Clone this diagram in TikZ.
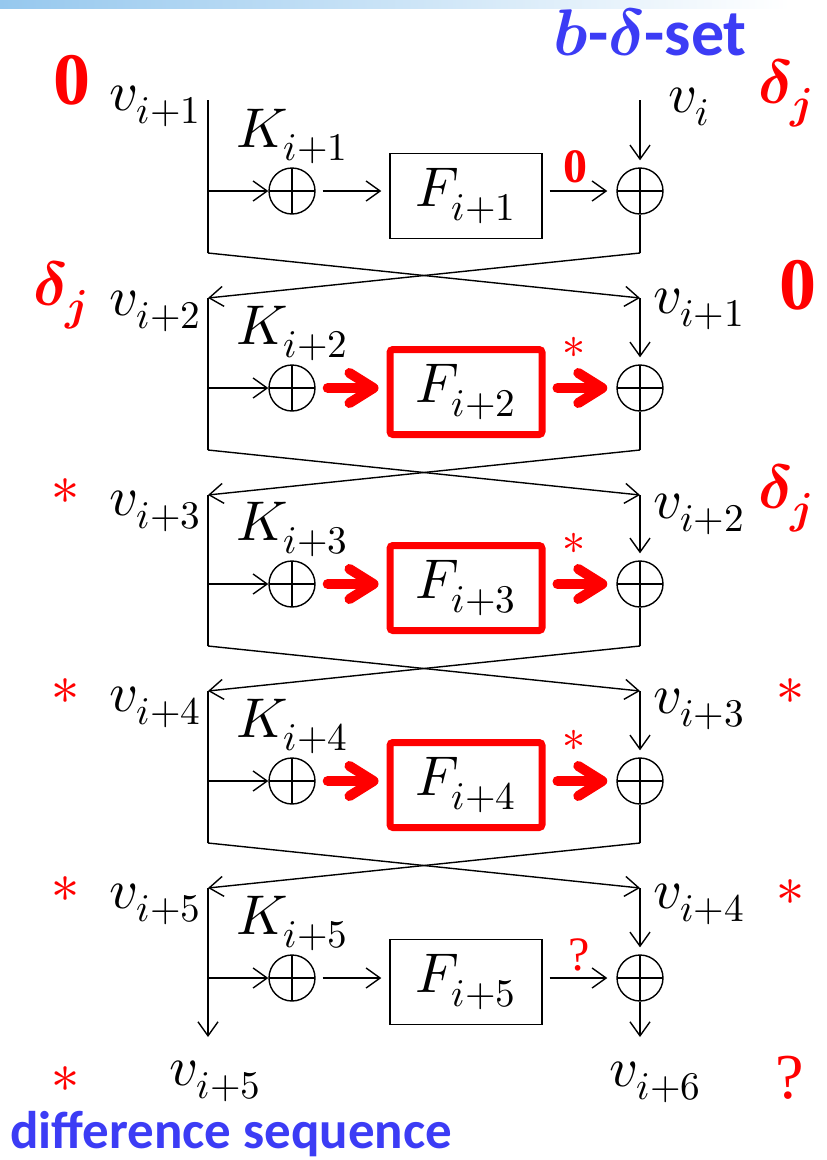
\documentclass[tikz,border=0pt]{standalone}
\usepackage{fontspec}
\usepackage{unicode-math}
\newfontfamily\calfont{Carlito}
\newfontfamily\timesfont{Liberation Serif}
\usetikzlibrary{positioning, arrows.meta, calc}

\definecolor{deltared}{RGB}{255,0,0}
\definecolor{noteblue}{RGB}{60,60,245}
\definecolor{barblue}{RGB}{150,200,238}

\begin{document}
\begin{tikzpicture}[x=1pt, y=-1pt,
        wire/.style={line width=1.4pt},
        flow/.style={wire, -{Straight Barb[length=14pt, width=20pt]}},
        hotflow/.style={draw=deltared, line width=10pt, line cap=round, -{Straight Barb[round, length=24pt, width=30pt]}},
        xorgate/.style={circle, draw, line width=1.4pt, minimum size=46pt, inner sep=0pt,
            path picture={\draw[line width=1.4pt] (path picture bounding box.north) -- (path picture bounding box.south)
                (path picture bounding box.west) -- (path picture bounding box.east);}},
        fbox/.style={draw, line width=1.4pt, minimum width=152pt, minimum height=85pt, inner sep=0pt, font=\fontsize{56}{60}\selectfont},
        hotbox/.style={fbox, draw=deltared, line width=7pt, rounded corners=3pt},
        vname/.style={inner sep=0pt, font=\fontsize{56}{60}\selectfont},
        redmark/.style={inner sep=0pt, text=deltared},
        bigzero/.style={redmark, font=\fontsize{74}{80}\selectfont\timesfont\bfseries},
        deltaj/.style={redmark, font=\fontsize{62}{66}\selectfont},
        star/.style={redmark, font=\fontsize{56}{60}\selectfont},
        note/.style={inner sep=0pt, text=noteblue, font=\fontsize{53}{58}\selectfont\calfont\bfseries}
    ]
        \useasboundingbox (0,0) rectangle (827,1160);
        \shade[left color=barblue, right color=white] (0,0) rectangle (790,8);

        % round 1
        \coordinate (ltop1) at (208,100);
        \coordinate (rtop1) at (640,100);
        \node[xorgate] (kx1) at (292,191) {};
        \node[fbox] (f1) at (466,196) {$F_{i+1}$};
        \node[xorgate] (rx1) at (640,191) {};
        \node[vname, anchor=base] (k1) at (292,147) {$K_{i+1}$};
        \coordinate (ltap1) at (208,191);
        \coordinate (lend1) at (208,253);
        \coordinate (rend1) at (640,253);
        \draw[wire] (ltop1) -- (lend1);
        \draw[flow] (ltap1) -- (kx1.west);
        \draw[flow, shorten <=7pt, shorten >=8pt] (kx1.east) -- (kx1.east -| f1.west);
        \draw[flow, shorten <=7pt, shorten >=9pt] (rx1.west -| f1.east) -- (rx1.west);
        \draw[flow, shorten >=7pt] (rtop1) -- (rx1.north);
        \draw[wire] (rx1.south) -- (rend1);

        % round 2
        \coordinate (ltop2) at (208,298);
        \coordinate (rtop2) at (640,298);
        \draw[flow] (lend1) -- (rtop2);
        \draw[flow] (rend1) -- (ltop2);
        \node[xorgate] (kx2) at (292,388) {};
        \node[hotbox] (f2) at (466,392) {$F_{i+2}$};
        \node[xorgate] (rx2) at (640,388) {};
        \node[vname, anchor=base] (k2) at (292,344) {$K_{i+2}$};
        \coordinate (ltap2) at (208,388);
        \coordinate (lend2) at (208,450);
        \coordinate (rend2) at (640,450);
        \draw[wire] (ltop2) -- (lend2);
        \draw[flow] (ltap2) -- (kx2.west);
        \draw[hotflow, shorten <=12pt, shorten >=8pt] (kx2.east) -- (kx2.east -| f2.west);
        \draw[hotflow, shorten <=12pt, shorten >=9pt] (rx2.west -| f2.east) -- (rx2.west);
        \draw[flow, shorten >=7pt] (rtop2) -- (rx2.north);
        \draw[wire] (rx2.south) -- (rend2);

        % round 3
        \coordinate (ltop3) at (208,495);
        \coordinate (rtop3) at (640,495);
        \draw[flow] (lend2) -- (rtop3);
        \draw[flow] (rend2) -- (ltop3);
        \node[xorgate] (kx3) at (292,584) {};
        \node[hotbox] (f3) at (466,588) {$F_{i+3}$};
        \node[xorgate] (rx3) at (640,584) {};
        \node[vname, anchor=base] (k3) at (292,540) {$K_{i+3}$};
        \coordinate (ltap3) at (208,584);
        \coordinate (lend3) at (208,646);
        \coordinate (rend3) at (640,646);
        \draw[wire] (ltop3) -- (lend3);
        \draw[flow] (ltap3) -- (kx3.west);
        \draw[hotflow, shorten <=12pt, shorten >=8pt] (kx3.east) -- (kx3.east -| f3.west);
        \draw[hotflow, shorten <=12pt, shorten >=9pt] (rx3.west -| f3.east) -- (rx3.west);
        \draw[flow, shorten >=7pt] (rtop3) -- (rx3.north);
        \draw[wire] (rx3.south) -- (rend3);

        % round 4
        \coordinate (ltop4) at (208,691);
        \coordinate (rtop4) at (640,691);
        \draw[flow] (lend3) -- (rtop4);
        \draw[flow] (rend3) -- (ltop4);
        \node[xorgate] (kx4) at (292,781) {};
        \node[hotbox] (f4) at (466,785) {$F_{i+4}$};
        \node[xorgate] (rx4) at (640,781) {};
        \node[vname, anchor=base] (k4) at (292,737) {$K_{i+4}$};
        \coordinate (ltap4) at (208,781);
        \coordinate (lend4) at (208,843);
        \coordinate (rend4) at (640,843);
        \draw[wire] (ltop4) -- (lend4);
        \draw[flow] (ltap4) -- (kx4.west);
        \draw[hotflow, shorten <=12pt, shorten >=8pt] (kx4.east) -- (kx4.east -| f4.west);
        \draw[hotflow, shorten <=12pt, shorten >=9pt] (rx4.west -| f4.east) -- (rx4.west);
        \draw[flow, shorten >=7pt] (rtop4) -- (rx4.north);
        \draw[wire] (rx4.south) -- (rend4);

        % round 5
        \coordinate (ltop5) at (208,888);
        \coordinate (rtop5) at (640,888);
        \draw[flow] (lend4) -- (rtop5);
        \draw[flow] (rend4) -- (ltop5);
        \node[xorgate] (kx5) at (292,978) {};
        \node[fbox] (f5) at (466,982) {$F_{i+5}$};
        \node[xorgate] (rx5) at (640,978) {};
        \node[vname, anchor=base] (k5) at (292,934) {$K_{i+5}$};
        \coordinate (ltap5) at (208,978);
        \coordinate (lout) at (208,1037);
        \coordinate (rout) at (640,1037);
        \draw[flow] (ltop5) -- (lout);
        \draw[flow] (ltap5) -- (kx5.west);
        \draw[flow, shorten <=7pt, shorten >=8pt] (kx5.east) -- (kx5.east -| f5.west);
        \draw[flow, shorten <=7pt, shorten >=9pt] (rx5.west -| f5.east) -- (rx5.west);
        \draw[flow, shorten >=7pt] (rtop5) -- (rx5.north);
        \draw[flow] (rx5.south) -- (rout);

        % branch names
        \node[vname, anchor=base east] (vl1) at (201,110) {$v_{i+1}$};
        \node[vname, anchor=base west] (vr1) at (668,112) {$v_{i}$};
        \node[vname, anchor=base east] (vl2) at (201,315) {$v_{i+2}$};
        \node[vname, anchor=base west] (vr2) at (653,313) {$v_{i+1}$};
        \node[vname, anchor=base east] (vl3) at (201,515) {$v_{i+3}$};
        \node[vname, anchor=base west] (vr3) at (653,518) {$v_{i+2}$};
        \node[vname, anchor=base east] (vl4) at (201,711) {$v_{i+4}$};
        \node[vname, anchor=base west] (vr4) at (653,713) {$v_{i+3}$};
        \node[vname, anchor=base east] (vl5) at (201,908) {$v_{i+5}$};
        \node[vname, anchor=base west] (vr5) at (653,908) {$v_{i+4}$};
        \node[vname, anchor=base] (vout5) at (215,1085) {$v_{i+5}$};
        \node[vname, anchor=base] (vout6) at (655,1086) {$v_{i+6}$};

        % differences
        \node[bigzero] (dl1) at (72,80) {0};
        \node[deltaj, anchor=base west] (dr1) at (758,103) {$\symbfit{\delta}_{\symbfit{j}}$};
        \node[deltaj, anchor=base west] (dl2) at (33,305) {$\symbfit{\delta}_{\symbfit{j}}$};
        \node[bigzero] (dr2) at (798,285) {0};
        \node[star] (dl3) at (65,492) {$\ast$};
        \node[deltaj, anchor=base west] (dr3) at (758,508) {$\symbfit{\delta}_{\symbfit{j}}$};
        \node[star] (dl4) at (65,692) {$\ast$};
        \node[star] (dr4) at (790,692) {$\ast$};
        \node[star] (dl5) at (65,890) {$\ast$};
        \node[star] (dr5) at (790,893) {$\ast$};
        \node[star] (dl6) at (65,1080) {$\ast$};
        \node[redmark, font=\fontsize{64}{70}\selectfont\timesfont] (dr6) at (790,1078) {?};

        % outputs of F
        \node[redmark, font=\fontsize{48}{54}\selectfont\timesfont\bfseries] (fo1) at (575,167) {0};
        \node[star, font=\fontsize{46}{50}\selectfont] (fo2) at (574,348) {$\ast$};
        \node[star, font=\fontsize{46}{50}\selectfont] (fo3) at (574,544) {$\ast$};
        \node[star, font=\fontsize{46}{50}\selectfont] (fo4) at (574,741) {$\ast$};
        \node[redmark, font=\fontsize{48}{54}\selectfont\timesfont] (fo5) at (579,955) {?};

        \node[note, anchor=base, font=\fontsize{66}{70}\selectfont\calfont\bfseries] (bset) at (650,55) {$\symbfit{b}$-$\symbfit{\delta}$-set};
        \node[note, anchor=base west] (dseq) at (10,1148) {difference sequence};
    \end{tikzpicture}
\end{document}
